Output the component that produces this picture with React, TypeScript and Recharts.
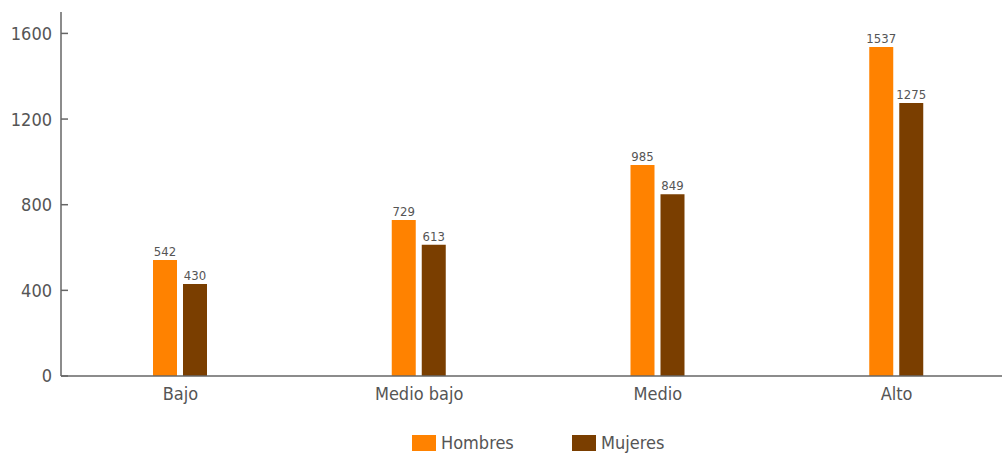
import React from 'react';
import { BarChart, Bar, XAxis, YAxis, LabelList } from 'recharts';

const categories = ['Bajo', 'Medio bajo', 'Medio', 'Alto'];
const hombres = [542, 729, 985, 1537];
const mujeres = [430, 613, 849, 1275];
const yTicks = [0, 400, 800, 1200, 1600];

const FONT = "'Liberation Sans Narrow', 'Arial Narrow', 'DejaVu Sans Condensed', sans-serif";
const TEXT = '#555';
const AXIS = '#666';
const ORANGE = '#FF8200';
const BROWN = '#7A3E00';

const data = categories.map((c, i) => ({ name: c, hombres: hombres[i], mujeres: mujeres[i] }));

// y tick: tick mark points inward, label sits left of the axis
const YTick = (props: any) => {
  const { x, y, payload } = props;
  return (
    <g>
      <line x1={x} y1={y} x2={x + 7} y2={y} stroke={AXIS} strokeWidth={1.5} />
      <text x={x - 9} y={y} dy="0.36em" textAnchor="end" fill={TEXT} fontSize={18} fontFamily={FONT}>
        {payload.value}
      </text>
    </g>
  );
};

const series: [string, string][] = [['Hombres', ORANGE], ['Mujeres', BROWN]];

export default function App() {
  return (
    <div style={{ position: 'fixed', top: 0, left: 0, width: 1002, height: 453, overflow: 'hidden', background: '#fff' }}>
      <BarChart
        width={1020}
        height={453}
        data={data}
        margin={{ top: 12, right: 4, left: 0, bottom: 47 }}
        barSize={24}
        barGap={6}
      >
        <XAxis
          dataKey="name"
          height={30}
          tickLine={false}
          tickSize={0}
          tickMargin={11}
          axisLine={{ stroke: AXIS, strokeWidth: 1.5 }}
          tick={{ fill: TEXT, fontSize: 18, fontFamily: FONT }}
        />
        <YAxis
          width={61}
          domain={[0, 1700]}
          ticks={yTicks}
          interval={0}
          tickLine={false}
          tickSize={0}
          tickMargin={0}
          axisLine={{ stroke: AXIS, strokeWidth: 1.5 }}
          tick={<YTick />}
        />
        <Bar dataKey="hombres" name="Hombres" fill={ORANGE} isAnimationActive={false}>
          <LabelList dataKey="hombres" position="top" offset={4} fill={TEXT} fontSize={13} fontFamily={FONT} />
        </Bar>
        <Bar dataKey="mujeres" name="Mujeres" fill={BROWN} isAnimationActive={false}>
          <LabelList dataKey="mujeres" position="top" offset={4} fill={TEXT} fontSize={13} fontFamily={FONT} />
        </Bar>
      </BarChart>
      <div style={{ position: 'absolute', top: 434, left: 412, display: 'flex', fontFamily: FONT, fontSize: 18, color: TEXT, lineHeight: '18px' }}>
        {series.map(([label, color]) => (
          <div key={label} style={{ width: 160, display: 'flex', alignItems: 'center' }}>
            <span style={{ display: 'inline-block', width: 24, height: 16, background: color, marginRight: 5 }} />
            <span>{label}</span>
          </div>
        ))}
      </div>
    </div>
  );
}
